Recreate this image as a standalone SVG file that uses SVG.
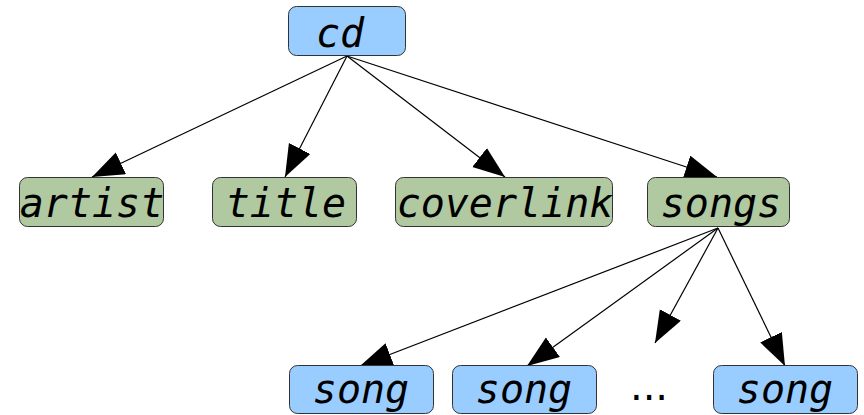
<svg xmlns="http://www.w3.org/2000/svg" width="864" height="415" viewBox="0 0 864 415">
<style>
.blue{fill:#99ccff;stroke:#333;stroke-width:1}
.green{fill:#b0c9a0;stroke:#333;stroke-width:1}
.lbl{font-family:"DejaVu Sans Mono",monospace;font-style:italic;font-size:40px;fill:#000;text-anchor:middle}
.edge{stroke:#000;stroke-width:1.2;fill:none;marker-end:url(#ah)}
</style>
<defs>
<marker id="ah" markerUnits="userSpaceOnUse" markerWidth="33" markerHeight="25" refX="32" refY="12" orient="auto" viewBox="0 0 33 25">
<path d="M0,0 L32,12 L0,24 z" fill="#000"/>
</marker>
</defs>
<g id="connectors">
<line class="edge" x1="347" y1="56" x2="92" y2="177"/>
<line class="edge" x1="347" y1="56" x2="285" y2="177"/>
<line class="edge" x1="347" y1="56" x2="505" y2="177"/>
<line class="edge" x1="347" y1="56" x2="717" y2="177"/>
<line class="edge" x1="718" y1="228" x2="360" y2="366"/>
<line class="edge" x1="718" y1="228" x2="527" y2="366"/>
<line class="edge" x1="718" y1="228" x2="655" y2="343"/>
<line class="edge" x1="718" y1="228" x2="785" y2="366"/>
</g>
<g id="cd"><rect class="blue" x="288.5" y="6.5" width="117" height="49" rx="8"/><text class="lbl" x="340" y="47">cd</text></g>
<g id="artist"><rect class="green" x="19.5" y="177.5" width="144" height="49" rx="8"/><text class="lbl" x="92" y="217">artist</text></g>
<g id="title"><rect class="green" x="212.5" y="177.5" width="144" height="49" rx="8"/><text class="lbl" x="286" y="217">title</text></g>
<g id="coverlink"><rect class="green" x="395.5" y="177.5" width="217" height="49" rx="8"/><text class="lbl" x="505" y="217">coverlink</text></g>
<g id="songs"><rect class="green" x="647.5" y="177.5" width="142" height="49" rx="8"/><text class="lbl" x="721" y="217">songs</text></g>
<g id="song1"><rect class="blue" x="289.5" y="365.5" width="144" height="48" rx="8"/><text class="lbl" x="361" y="403">song</text></g>
<g id="song2"><rect class="blue" x="452.5" y="365.5" width="144" height="48" rx="8"/><text class="lbl" x="524" y="403">song</text></g>
<g id="ellipsis"><text x="649" y="400" style="font-family:'DejaVu Sans',sans-serif;font-size:40px;text-anchor:middle">...</text></g>
<g id="song3"><rect class="blue" x="713.5" y="365.5" width="144" height="48" rx="8"/><text class="lbl" x="785" y="403">song</text></g>
</svg>
